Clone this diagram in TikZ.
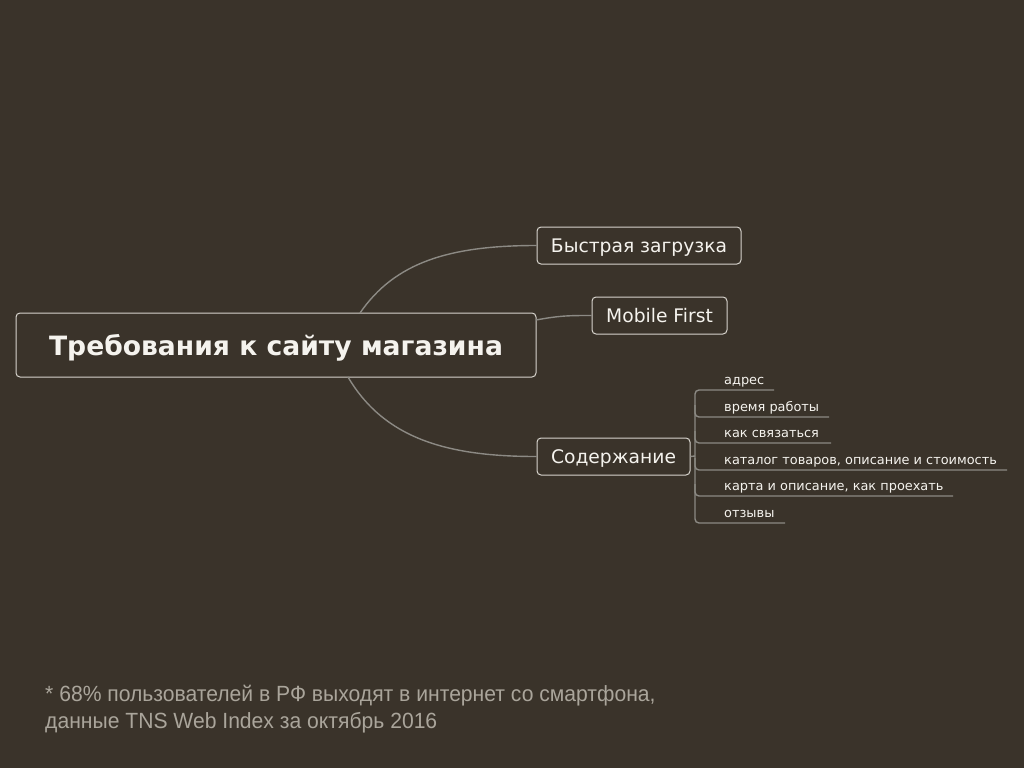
\documentclass[tikz,border=0pt]{standalone}
\usepackage{fontspec}
\setmainfont{DejaVu Sans}
\newfontfamily\notefont[FakeStretch=0.96]{Liberation Sans}
\definecolor{bg}{RGB}{58,51,42}
\definecolor{boxline}{RGB}{215,212,205}
\definecolor{conn}{RGB}{140,138,132}
\definecolor{txt}{RGB}{245,243,238}
\definecolor{notetxt}{RGB}{170,165,155}
\tikzset{
  topic/.style={draw=boxline, line width=1pt, rounded corners=4pt, text=txt, inner sep=0pt, anchor=center, text depth=0pt},
  conline/.style={draw=conn, line width=1.4pt},
  leafline/.style={draw=conn, line width=1.4pt, rounded corners=4pt},
  leaf/.style={text=txt, anchor=base west, inner sep=0pt, font=\fontsize{12.9}{15}\selectfont},
}
\begin{document}
\begin{tikzpicture}[x=1pt,y=-1pt]
\fill[bg] (0,0) rectangle (1024,768);
\useasboundingbox (0,0) rectangle (1024,768);
% connectors
\coordinate (m1) at (360,313);
\coordinate (m2) at (536,320);
\coordinate (m3) at (348,377);
\coordinate (s1) at (695,456);
% nodes
\node[topic, minimum width=520pt, minimum height=64pt, font=\bfseries\fontsize{26.6}{31}\selectfont] (main) at (276,345) {Требования к сайту магазина};
\node[topic, minimum width=204pt, minimum height=37pt, font=\fontsize{18.7}{22}\selectfont] (b1) at (639,245.5) {Быстрая загрузка};
\node[topic, minimum width=135pt, minimum height=37pt, font=\fontsize{18.7}{22}\selectfont] (b2) at (659.5,315.5) {Mobile First};
\node[topic, minimum width=153pt, minimum height=37pt, font=\fontsize{18.7}{22}\selectfont] (b3) at (613.5,456.5) {Содержание};
\draw[conline] (m1) .. controls (395,262) and (450,245.5) .. (b1.west);
\draw[conline] (m2) .. controls (560,315.5) and (570,315.5) .. (b2.west);
\draw[conline] (m3) .. controls (385,440) and (450,456.5) .. (b3.west);
\draw[conline] (b3.east) -- (s1);
% leaves
\coordinate (l1) at (774,390);
\coordinate (l2) at (829,417);
\coordinate (l3) at (831,443);
\coordinate (l4) at (1007,470);
\coordinate (l5) at (953,496);
\coordinate (l6) at (785,523);
\draw[leafline] (l1) -- (695,390) -- (695,523) -- (l6);
\draw[leafline] (695,405) -- (695,417) -- (l2);
\draw[leafline] (695,431) -- (695,443) -- (l3);
\draw[leafline] (695,458) -- (695,470) -- (l4);
\draw[leafline] (695,484) -- (695,496) -- (l5);
\node[leaf] (t1) at (724,384) {адрес};
\node[leaf] (t2) at (724,411) {время работы};
\node[leaf] (t3) at (724,437) {как связаться};
\node[leaf] (t4) at (724,464) {каталог товаров, описание и стоимость};
\node[leaf] (t5) at (724,490) {карта и описание, как проехать};
\node[leaf] (t6) at (724,517) {отзывы};
% footnote
\node[anchor=base west, inner sep=0pt, text=notetxt, font=\notefont\fontsize{22}{27}\selectfont, align=left] (note) at (45,728) {* 68\% пользователей в РФ выходят в интернет со смартфона,\\данные TNS Web Index за октябрь 2016};
\end{tikzpicture}
\end{document}
